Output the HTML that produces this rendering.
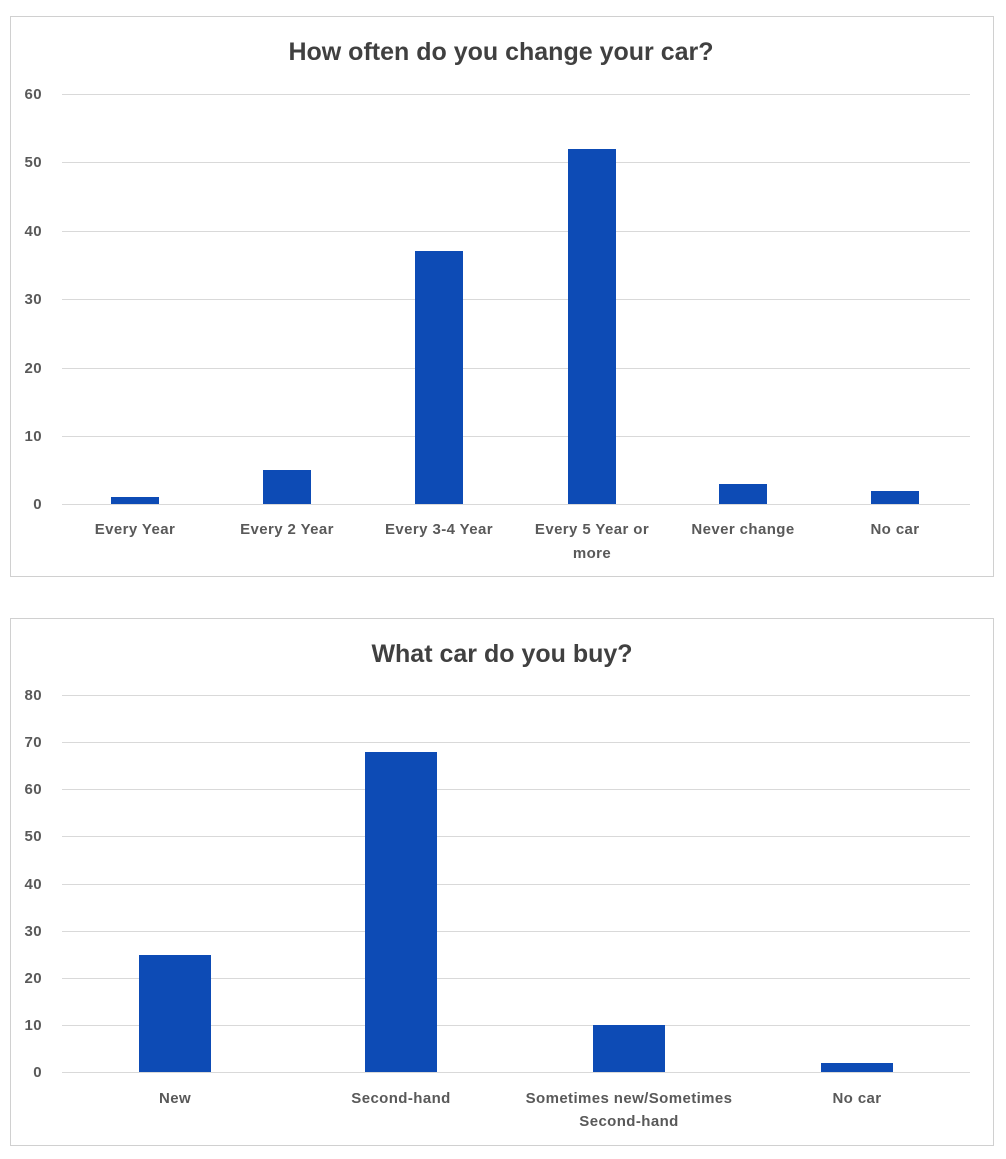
<!DOCTYPE html>
<html><head><meta charset="utf-8"><style>
body{margin:0;background:#fff;}
svg{display:block;font-family:"Liberation Sans","DejaVu Sans",sans-serif;}
.t{font-size:25px;font-weight:bold;fill:#404040;}
.l{font-size:15px;font-weight:bold;fill:#595959;letter-spacing:0.4px;}
.g{stroke:#d9d9d9;stroke-width:1;}
.b{fill:#0d4bb5;}
</style></head><body>
<svg width="1006" height="1159" viewBox="0 0 1006 1159">
<rect x="10.5" y="16.5" width="983" height="560" fill="#fff" stroke="#d0d0d0"/>
<text class="t" x="501" y="60" text-anchor="middle">How often do you change your car?</text>
<g class="g">
<line x1="62" x2="970" y1="94.5" y2="94.5"/><line x1="62" x2="970" y1="162.5" y2="162.5"/>
<line x1="62" x2="970" y1="231.5" y2="231.5"/><line x1="62" x2="970" y1="299.5" y2="299.5"/>
<line x1="62" x2="970" y1="368.5" y2="368.5"/><line x1="62" x2="970" y1="436.5" y2="436.5"/>
<line x1="62" x2="970" y1="504.5" y2="504.5"/></g>
<g class="l" text-anchor="end">
<text x="42" y="99">60</text><text x="42" y="167">50</text><text x="42" y="236">40</text>
<text x="42" y="304">30</text><text x="42" y="373">20</text><text x="42" y="441">10</text><text x="42" y="509">0</text></g>
<rect class="b" x="111" y="497" width="48" height="7"/>
<rect class="b" x="263" y="470" width="48" height="34"/>
<rect class="b" x="415" y="251" width="48" height="253"/>
<rect class="b" x="568" y="149" width="48" height="355"/>
<rect class="b" x="719" y="484" width="48" height="20"/>
<rect class="b" x="871" y="491" width="48" height="13"/>
<g class="l" text-anchor="middle">
<text x="135" y="534">Every Year</text><text x="287" y="534">Every 2 Year</text>
<text x="439" y="534">Every 3-4 Year</text><text x="592" y="534">Every 5 Year or</text>
<text x="592" y="558">more</text><text x="743" y="534">Never change</text><text x="895" y="534">No car</text></g>

<rect x="10.5" y="618.5" width="983" height="527" fill="#fff" stroke="#d0d0d0"/>
<text class="t" x="502" y="662" text-anchor="middle">What car do you buy?</text>
<g class="g">
<line x1="62" x2="970" y1="695.5" y2="695.5"/><line x1="62" x2="970" y1="742.5" y2="742.5"/>
<line x1="62" x2="970" y1="789.5" y2="789.5"/><line x1="62" x2="970" y1="836.5" y2="836.5"/>
<line x1="62" x2="970" y1="884.5" y2="884.5"/><line x1="62" x2="970" y1="931.5" y2="931.5"/>
<line x1="62" x2="970" y1="978.5" y2="978.5"/><line x1="62" x2="970" y1="1025.5" y2="1025.5"/>
<line x1="62" x2="970" y1="1072.5" y2="1072.5"/></g>
<g class="l" text-anchor="end">
<text x="42" y="700">80</text><text x="42" y="747">70</text><text x="42" y="794">60</text>
<text x="42" y="841">50</text><text x="42" y="889">40</text><text x="42" y="936">30</text>
<text x="42" y="983">20</text><text x="42" y="1030">10</text><text x="42" y="1077">0</text></g>
<rect class="b" x="139" y="955" width="72" height="117"/>
<rect class="b" x="365" y="752" width="72" height="320"/>
<rect class="b" x="593" y="1025" width="72" height="47"/>
<rect class="b" x="821" y="1063" width="72" height="9"/>
<g class="l" text-anchor="middle">
<text x="175" y="1103">New</text><text x="401" y="1103">Second-hand</text>
<text x="629" y="1103">Sometimes new/Sometimes</text><text x="629" y="1126">Second-hand</text>
<text x="857" y="1103">No car</text></g>
</svg>
</body></html>
